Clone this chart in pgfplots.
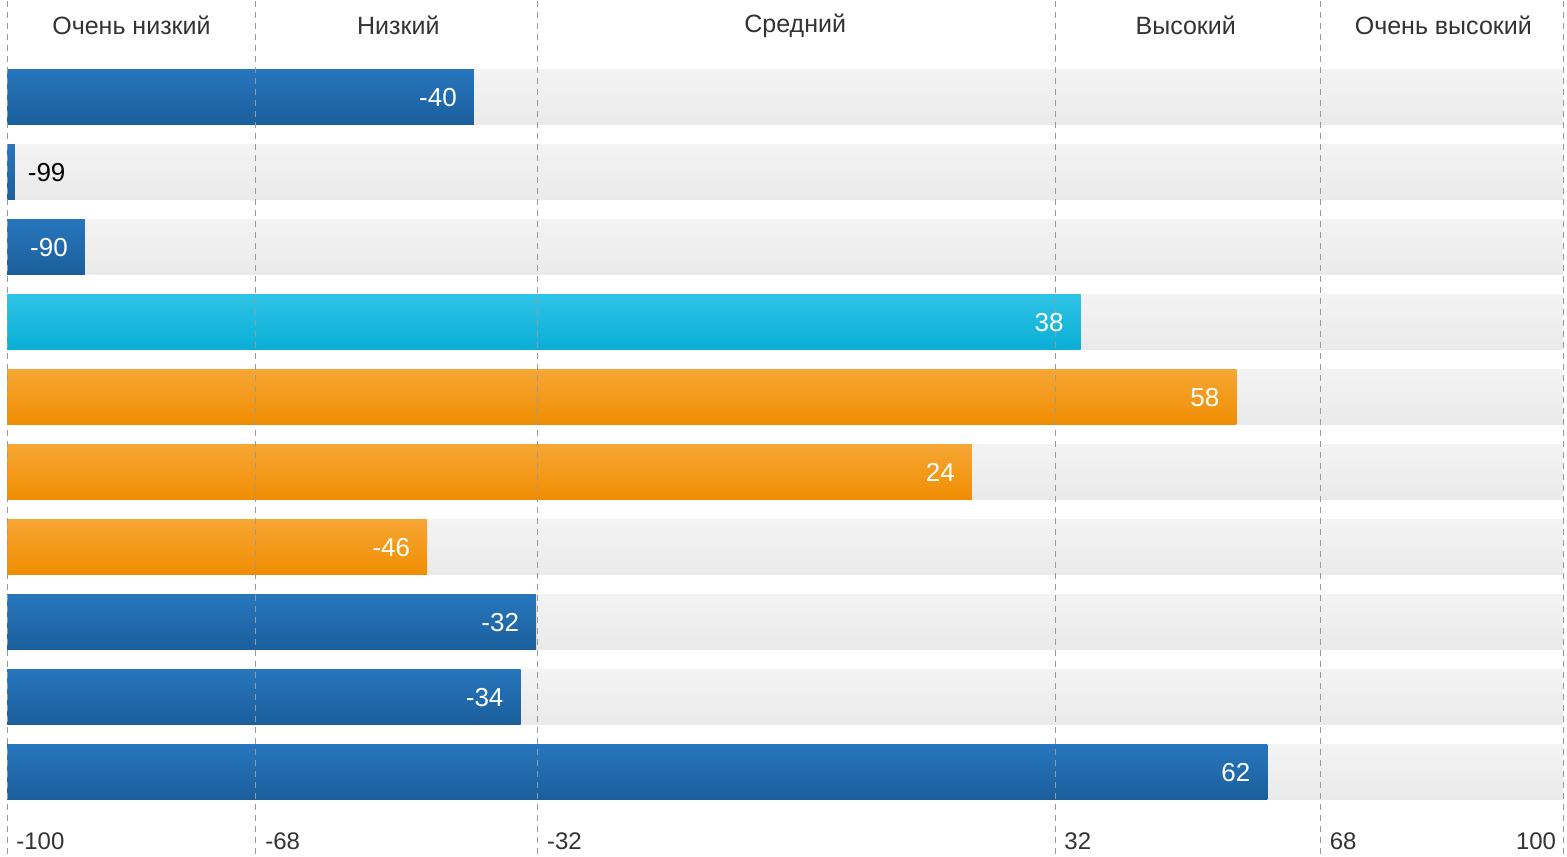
\documentclass[border=0pt]{standalone}
\usepackage{pgfplots}
\usepackage{pgfplotstable}
\pgfplotsset{compat=1.18}
\usepackage{fontspec}
\setmainfont{Liberation Sans}
\definecolor{blueTop}{HTML}{2776BD}
\definecolor{blueBot}{HTML}{1B5E9B}
\definecolor{cyanTop}{HTML}{2EC4E6}
\definecolor{cyanBot}{HTML}{0AADD5}
\definecolor{orTop}{HTML}{F6A633}
\definecolor{orBot}{HTML}{F08D02}
\definecolor{bgTop}{HTML}{F3F3F3}
\definecolor{bgBot}{HTML}{EAEAEA}
\definecolor{gridc}{HTML}{9A9A9A}
\definecolor{txt}{HTML}{333333}

\pgfplotsset{
  inlab/.style={nodes near coords,
    every node near coord/.append style={anchor=east, xshift=-5pt, text=white, font=\fontsize{13}{15}\selectfont}},
  outlab/.style={nodes near coords,
    every node near coord/.append style={anchor=west, xshift=3pt, text=black, font=\fontsize{13}{15}\selectfont}},
  bluebar/.style={top color=blueTop, bottom color=blueBot},
  cyanbar/.style={top color=cyanTop, bottom color=cyanBot},
  orbar/.style={top color=orTop, bottom color=orBot},
  bgbar/.style={top color=bgTop, bottom color=bgBot},
  table/vt/.style={x expr=\thisrow{val}+100, y=y, meta=val, row sep=\\},
}

\begin{document}
\begin{tikzpicture}
\begin{axis}[
  width=783.5pt, height=427.5pt, scale only axis,
  xmin=-0.9, xmax=200.5,
  ymin=-1.293, ymax=10.107,
  y dir=reverse,
  axis lines=none,
  ticks=none,
  clip=false,
  xbar, bar width=27.5pt, bar shift=0pt,
  point meta=explicit symbolic,
  every axis plot/.append style={xbar, bar width=27.5pt, bar shift=0pt, draw=none},
]
\path (rel axis cs:0,0) rectangle (rel axis cs:1,1);
% background tracks (value 100 = full scale)
\addplot[bgbar] table[vt] {y val\\ 0 100\\};
\addplot[bgbar] table[vt] {y val\\ 1 100\\};
\addplot[bgbar] table[vt] {y val\\ 2 100\\};
\addplot[bgbar] table[vt] {y val\\ 3 100\\};
\addplot[bgbar] table[vt] {y val\\ 4 100\\};
\addplot[bgbar] table[vt] {y val\\ 5 100\\};
\addplot[bgbar] table[vt] {y val\\ 6 100\\};
\addplot[bgbar] table[vt] {y val\\ 7 100\\};
\addplot[bgbar] table[vt] {y val\\ 8 100\\};
\addplot[bgbar] table[vt] {y val\\ 9 100\\};
% value bars
\addplot[bluebar, inlab]  table[vt] {y val\\ 0 -40\\};
\addplot[bluebar, outlab] table[vt] {y val\\ 1 -99\\};
\addplot[bluebar, inlab]  table[vt] {y val\\ 2 -90\\};
\addplot[cyanbar, inlab]  table[vt] {y val\\ 3 38\\};
\addplot[orbar, inlab]    table[vt] {y val\\ 4 58\\};
\addplot[orbar, inlab]    table[vt] {y val\\ 5 24\\};
\addplot[orbar, inlab]    table[vt] {y val\\ 6 -46\\};
\addplot[bluebar, inlab]  table[vt] {y val\\ 7 -32\\};
\addplot[bluebar, inlab]  table[vt] {y val\\ 8 -34\\};
\addplot[bluebar, inlab]  table[vt] {y val\\ 9 62\\};
% dashed separators (positions as drawn in the reference)
\foreach \xx in {0,32,68.2,134.7,168.8,200} {
  \edef\tmp{\noexpand\addplot[sharp plot, no marks, draw=gridc, line width=0.5pt, dash pattern=on 3pt off 2.5pt, forget plot] coordinates {(\xx,-1.293) (\xx,10.107)};}
  \tmp
}
% band titles
\node[text=txt, font=\fontsize{12.5}{14}\selectfont] at (axis cs:16,-0.96) {Очень низкий};
\node[text=txt, font=\fontsize{12.5}{14}\selectfont] at (axis cs:50.3,-0.96) {Низкий};
\node[text=txt, font=\fontsize{12.5}{14}\selectfont] at (axis cs:101.3,-0.96) {Средний};
\node[text=txt, font=\fontsize{12.5}{14}\selectfont] at (axis cs:151.5,-0.96) {Высокий};
\node[text=txt, font=\fontsize{12.5}{14}\selectfont] at (axis cs:184.6,-0.96) {Очень высокий};
% bottom tick labels
\node[text=txt, anchor=west, font=\fontsize{12}{14}\selectfont] at (axis cs:0.3,9.92) {-100};
\node[text=txt, anchor=west, font=\fontsize{12}{14}\selectfont] at (axis cs:32.3,9.92) {-68};
\node[text=txt, anchor=west, font=\fontsize{12}{14}\selectfont] at (axis cs:68.5,9.92) {-32};
\node[text=txt, anchor=west, font=\fontsize{12}{14}\selectfont] at (axis cs:135.0,9.92) {32};
\node[text=txt, anchor=west, font=\fontsize{12}{14}\selectfont] at (axis cs:169.1,9.92) {68};
\node[text=txt, anchor=east, font=\fontsize{12}{14}\selectfont] at (axis cs:200,9.92) {100};
\end{axis}
\end{tikzpicture}
\end{document}
